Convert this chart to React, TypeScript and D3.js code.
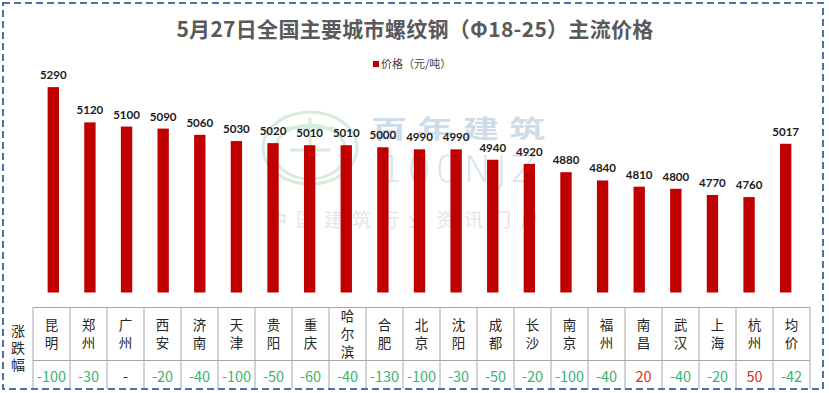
import React from 'react';
import * as d3 from 'd3';

const cities = ['昆明', '郑州', '广州', '西安', '济南', '天津', '贵阳', '重庆', '哈尔滨', '合肥', '北京', '沈阳', '成都', '长沙', '南京', '福州', '南昌', '武汉', '上海', '杭州', '均价'];
const prices = [5290, 5120, 5100, 5090, 5060, 5030, 5020, 5010, 5010, 5000, 4990, 4990, 4940, 4920, 4880, 4840, 4810, 4800, 4770, 4760, 5017];
const changes: (number | null)[] = [-100, -30, null, -20, -40, -100, -50, -60, -40, -130, -100, -30, -50, -20, -100, -40, 20, -40, -20, 50, -42];

const title = '5月27日全国主要城市螺纹钢（Φ18-25）主流价格';
const legendLabel = '价格（元/吨）';
const rowHeader = ['涨', '跌', '幅'];

const W = 829;
const H = 393;
const cjk = '"Noto Sans CJK SC", "Noto Sans", sans-serif';

const App = () => {
  // bar positions
  const x = d3.scaleBand<string>()
    .domain(cities)
    .range([35, 804])
    .paddingInner(0.69)
    .paddingOuter(0.345);

  const y = d3.scaleLinear()
    .domain([4300, 5400])
    .range([292.5, 64.3]);

  // table columns
  const col = d3.scaleBand<string>()
    .domain(cities)
    .range([33, 810]);

  const tableTop = 307.5;
  const tableMid = 360.5;
  const tableBottom = 389;

  return (
    <svg width={W} height={H} style={{ position: 'absolute', left: 0, top: 0, background: '#fff' }}>
      <rect x={0} y={0} width={W} height={H} fill="#fff" />

      {/* watermark */}
      <g opacity={0.9}>
        <ellipse cx={310} cy={148} rx={47} ry={36} fill="none" stroke="#d2ecd8" strokeWidth={3} />
        <ellipse cx={310} cy={152} rx={36} ry={27} fill="none" stroke="#d2ecd8" strokeWidth={3} />
        <line x1={285} y1={128} x2={335} y2={128} stroke="#d2ecd8" strokeWidth={3} />
        <line x1={290} y1={150} x2={330} y2={150} stroke="#d2ecd8" strokeWidth={3} />
        <line x1={310} y1={118} x2={310} y2={175} stroke="#d2ecd8" strokeWidth={3} />
        <text x={463} y={138} textAnchor="middle" fontFamily={cjk} fontWeight={700} fontSize={36} fill="#c9d9e8"
          letterSpacing={10} transform="translate(463,138) scale(1,0.7) translate(-463,-138)">百年建筑</text>
        <text x={460} y={182} textAnchor="middle" fontFamily='"DejaVu Sans", sans-serif' fontWeight={200} fontSize={38} fill="#d3e0ec" letterSpacing={4}>100NJZ</text>
        <text x={408} y={227} textAnchor="middle" fontFamily={cjk} fontSize={19} fill="#e3e3e3" letterSpacing={9}>中国建筑行业资讯门户</text>
      </g>

      {/* title */}
      <text x={415} y={37} textAnchor="middle" fontFamily={cjk} fontWeight={700} fontSize={21} letterSpacing={0.3} fill="#595959">{title}</text>

      {/* legend */}
      <rect x={373} y={61} width={6} height={6} fill="#c00000" />
      <text x={381} y={68} fontFamily={cjk} fontSize={11} fill="#404040">{legendLabel}</text>

      {/* bars */}
      {cities.map((c, i) => (
        <g key={c}>
          <rect
            x={x(c)}
            y={y(prices[i])}
            width={x.bandwidth()}
            height={y(4300) - y(prices[i])}
            fill="#c00000"
          />
          <text
            x={(x(c) ?? 0) + x.bandwidth() / 2}
            y={y(prices[i]) - 8}
            textAnchor="middle"
            fontFamily='Lato, "Open Sans", sans-serif'
            fontWeight={700}
            fontSize={11.5}
            fill="#1a1a1a"
          >
            {prices[i]}
          </text>
        </g>
      ))}

      {/* table */}
      <g stroke="#a6a6a6" strokeWidth={1}>
        <line x1={col.range()[0]} x2={col.range()[1]} y1={tableTop} y2={tableTop} />
        <line x1={col.range()[0]} x2={col.range()[1]} y1={tableMid} y2={tableMid} />
        {cities.map(c => (
          <line key={c} x1={col(c)} x2={col(c)} y1={tableTop} y2={tableBottom} />
        ))}
        <line x1={col.range()[1]} x2={col.range()[1]} y1={tableTop} y2={tableBottom} />
      </g>

      {cities.map((c, i) => {
        const cx = (col(c) ?? 0) + col.bandwidth() / 2;
        const chars = Array.from(c);
        const lh = 18;
        const startY = (tableTop + tableMid) / 2 - ((chars.length - 1) * lh) / 2 + 5;
        const v = changes[i];
        const label = v === null ? '-' : String(v);
        const color = v === null ? '#262626' : v > 0 ? '#e02b2b' : '#3bb36e';
        return (
          <g key={c}>
            {chars.map((ch, k) => (
              <text key={k} x={cx} y={startY + k * lh} textAnchor="middle" fontFamily={cjk} fontSize={13.5} fill="#262626">{ch}</text>
            ))}
            <text x={cx} y={382} textAnchor="middle" fontFamily={cjk} fontSize={14.5} fill={color}>{label}</text>
          </g>
        );
      })}

      {rowHeader.map((ch, k) => (
        <text key={ch} x={18} y={336 + k * 17} textAnchor="middle" fontFamily={cjk} fontSize={14} fill="#262626">{ch}</text>
      ))}

      {/* outer dashed frame */}
      <rect x={3} y={3} width={820} height={386} fill="none" stroke="#4f71a6" strokeWidth={2} strokeDasharray="7,4" />
    </svg>
  );
};

export default App;
